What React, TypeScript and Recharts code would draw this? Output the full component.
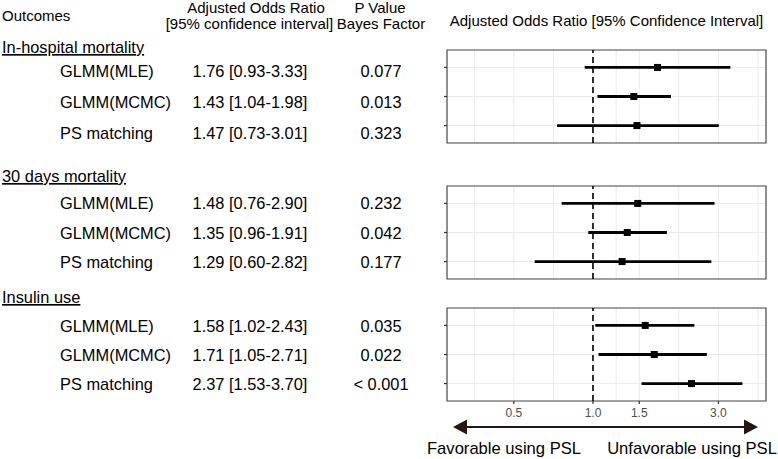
import React from 'react';
import {
  ScatterChart,
  Scatter,
  XAxis,
  YAxis,
  CartesianGrid,
  ReferenceLine,
  ReferenceArea,
  ErrorBar,
} from 'recharts';

const OUTCOMES = ['In-hospital mortality', '30 days mortality', 'Insulin use'];
const METHODS = ['GLMM(MLE)', 'GLMM(MCMC)', 'PS matching'];

const OR_HOSPITAL = [1.76, 1.43, 1.47];
const LOWER_HOSPITAL = [0.93, 1.04, 0.73];
const UPPER_HOSPITAL = [3.33, 1.98, 3.01];
const P_HOSPITAL = ['0.077', '0.013', '0.323'];

const OR_30DAY = [1.48, 1.35, 1.29];
const LOWER_30DAY = [0.76, 0.96, 0.6];
const UPPER_30DAY = [2.9, 1.91, 2.82];
const P_30DAY = ['0.232', '0.042', '0.177'];

const OR_INSULIN = [1.58, 1.71, 2.37];
const LOWER_INSULIN = [1.02, 1.05, 1.53];
const UPPER_INSULIN = [2.43, 2.71, 3.7];
const P_INSULIN = ['0.035', '0.022', '< 0.001'];

const X_TICKS = [0.5, 1.0, 1.5, 3.0];
// major + minor grid lines (ggplot style)
const GRID_TICKS = [0.354, 0.5, 0.707, 1.0, 1.225, 1.5, 2.121, 3.0, 4.243];
const X_DOMAIN: [number, number] = [0.2785, 4.55];
const Y_DOMAIN: [number, number] = [0.4, 3.6];

const GROUPS = [
  { or: OR_HOSPITAL, lo: LOWER_HOSPITAL, hi: UPPER_HOSPITAL, p: P_HOSPITAL },
  { or: OR_30DAY, lo: LOWER_30DAY, hi: UPPER_30DAY, p: P_30DAY },
  { or: OR_INSULIN, lo: LOWER_INSULIN, hi: UPPER_INSULIN, p: P_INSULIN },
];

// layout (px) of the left table and the panels
const GROUP_BASELINE = [53, 182, 303];
const ROW_BASELINES = [
  [77, 108, 139],
  [209, 239, 268],
  [332, 361, 390],
];
const PANEL_TOP = [50, 186, 308];
const PANEL_H = 93;

const FONT = '"Liberation Sans", Arial, Helvetica, sans-serif';

const Square = (props: any) => {
  const { cx, cy } = props;
  if (cx == null || cy == null) return null;
  return <rect x={cx - 3.5} y={cy - 3.5} width={7} height={7} fill="#000" />;
};

// only major values get a tick mark and a label
const XTick = (props: any) => {
  const { x, y, payload } = props;
  if (!X_TICKS.includes(payload.value)) return <g />;
  return (
    <g>
      <line x1={x} x2={x} y1={y} y2={y + 3} stroke="#333" strokeWidth={1.2} />
      <text
        x={x}
        y={y + 16}
        textAnchor="middle"
        fill="#4d4d4d"
        fontSize={12}
        fontFamily={FONT}
      >
        {payload.value.toFixed(1)}
      </text>
    </g>
  );
};

const Empty = () => <g />;

function Panel({ idx, showAxis }: { idx: number; showAxis: boolean }) {
  const g = GROUPS[idx];
  const rows = g.or.map((v, i) => ({
    row: i + 1,
    or: v,
    err: [v - g.lo[i], g.hi[i] - v],
  }));
  const axisH = showAxis ? 24 : 0;
  const bottom = showAxis ? 2 : 5;
  const height = 5 + PANEL_H + axisH + bottom;
  return (
    <div style={{ position: 'absolute', left: 440, top: PANEL_TOP[idx] - 5 }}>
      <ScatterChart
        width={334}
        height={height}
        margin={{ top: 5, right: 8, bottom, left: 3 }}
        style={{ overflow: 'visible' }}
      >
        <CartesianGrid stroke="#ebebeb" strokeWidth={1} />
        <XAxis
          dataKey="or"
          type="number"
          scale="log"
          domain={X_DOMAIN}
          ticks={GRID_TICKS}
          allowDataOverflow
          height={axisH}
          axisLine={false}
          tickLine={false}
          tickSize={0}
          tickMargin={0}
          tick={showAxis ? XTick : Empty}
          interval={0}
        />
        <YAxis
          dataKey="row"
          type="number"
          domain={Y_DOMAIN}
          reversed
          ticks={[1, 2, 3]}
          width={4}
          tickSize={3}
          axisLine={false}
          tick={Empty}
          tickLine={{ stroke: '#333', strokeWidth: 1.2 }}
          allowDataOverflow
        />
        <ReferenceLine x={1} stroke="#000" strokeWidth={1.6} strokeDasharray="6 4" />
        <Scatter data={rows} shape={Square} isAnimationActive={false}>
          <ErrorBar
            dataKey="err"
            direction="x"
            width={0}
            stroke="#000"
            strokeWidth={2.8}
            isAnimationActive={false}
          />
        </Scatter>
        <ReferenceArea
          x1={X_DOMAIN[0]}
          x2={X_DOMAIN[1]}
          y1={Y_DOMAIN[0]}
          y2={Y_DOMAIN[1]}
          fill="none"
          stroke="#4d4d4d"
          strokeWidth={1.2}
          ifOverflow="visible"
        />
      </ScatterChart>
    </div>
  );
}

const fmt = (v: number) => v.toFixed(2);

export default function App() {
  return (
    <div
      style={{
        position: 'absolute',
        left: 0,
        top: 0,
        width: 778,
        height: 459,
        background: '#fff',
        fontFamily: FONT,
      }}
    >
      <svg width={778} height={459} style={{ position: 'absolute', left: 0, top: 0 }}>
        <g fontFamily={FONT} fill="#000">
          <text x={2} y={20.5} fontSize={15}>Outcomes</text>
          <text x={256} y={12.5} fontSize={15} textAnchor="middle">Adjusted Odds Ratio</text>
          <text x={249.5} y={29} fontSize={15} textAnchor="middle">[95% confidence interval]</text>
          <text x={380} y={12.5} fontSize={15} textAnchor="middle">P Value</text>
          <text x={381} y={29} fontSize={15} textAnchor="middle">Bayes Factor</text>
          <text x={606.5} y={26} fontSize={15} textAnchor="middle">
            Adjusted Odds Ratio [95% Confidence Interval]
          </text>
          {OUTCOMES.map((o, gi) => (
            <g key={o}>
              <text
                x={2}
                y={GROUP_BASELINE[gi]}
                fontSize={16.4}
                style={{ textDecoration: 'underline' }}
              >
                {o}
              </text>
              {METHODS.map((m, ri) => (
                <g key={m}>
                  <text x={60} y={ROW_BASELINES[gi][ri]} fontSize={16.4}>{m}</text>
                  <text x={250} y={ROW_BASELINES[gi][ri]} fontSize={16.4} textAnchor="middle">
                    {`${fmt(GROUPS[gi].or[ri])} [${fmt(GROUPS[gi].lo[ri])}-${fmt(GROUPS[gi].hi[ri])}]`}
                  </text>
                  <text x={381} y={ROW_BASELINES[gi][ri]} fontSize={16.4} textAnchor="middle">
                    {GROUPS[gi].p[ri]}
                  </text>
                </g>
              ))}
            </g>
          ))}
          {/* direction arrow */}
          <line x1={465} y1={427} x2={747} y2={427} stroke="#231815" strokeWidth={2} />
          <polygon points="453,427 467,419.5 467,434.5" fill="#231815" />
          <polygon points="758,427 744,419.5 744,434.5" fill="#231815" />
          <text x={504} y={453.5} fontSize={16.6} textAnchor="middle">Favorable using PSL</text>
          <text x={692} y={453.5} fontSize={16.6} textAnchor="middle">Unfavorable using PSL</text>
        </g>
      </svg>
      <Panel idx={0} showAxis={false} />
      <Panel idx={1} showAxis={false} />
      <Panel idx={2} showAxis={true} />
    </div>
  );
}
